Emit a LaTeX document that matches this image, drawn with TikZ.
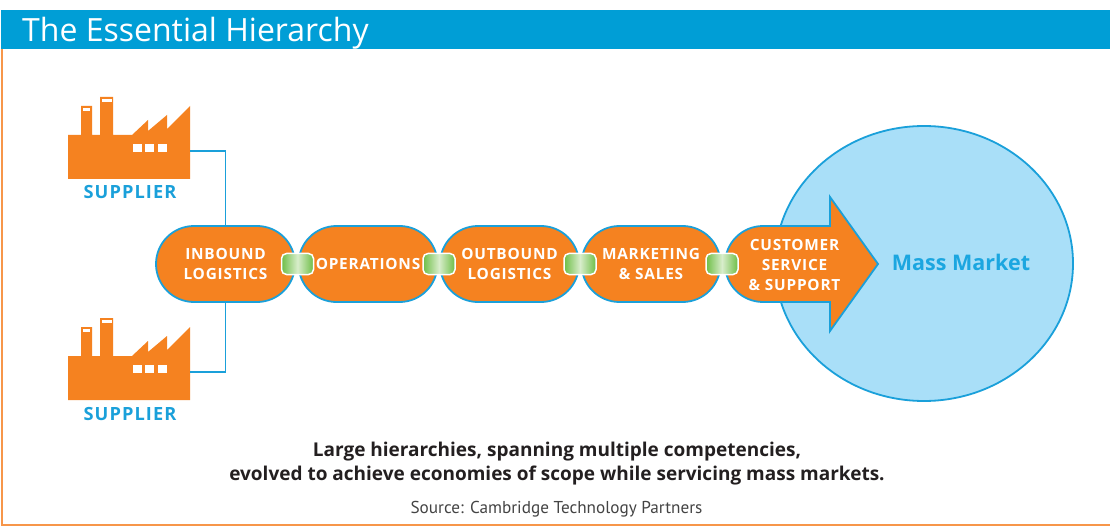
\documentclass[tikz,border=0pt]{standalone}
\usepackage{fontspec}
\setmainfont{Open Sans}
\newfontfamily\srcfont{PT Sans}
\newfontfamily\pillfont{Open Sans}[LetterSpace=5.0]
\newfontfamily\supfont{Open Sans}[LetterSpace=6.0]
\usetikzlibrary{shapes.misc,shapes.geometric}
\definecolor{ora}{HTML}{F58220}
\definecolor{bluel}{HTML}{1AA0DA}
\definecolor{titleblue}{HTML}{009ED6}
\definecolor{mmfill}{HTML}{A9DFF8}
\definecolor{mmtext}{HTML}{1BA6E0}
\definecolor{gdark}{HTML}{6DBE46}
\definecolor{glight}{HTML}{D8EDCB}
\definecolor{captxt}{HTML}{231F20}
\definecolor{srctxt}{HTML}{444444}
\definecolor{frameor}{HTML}{F7964A}
\begin{document}
\begin{tikzpicture}[x=1pt,y=-1pt,
  pill/.style={rounded rectangle, fill=ora, draw=bluel, line width=1.8pt,
    minimum width=139pt, minimum height=76pt, inner sep=0pt, text=white,
    font=\pillfont\bfseries\fontsize{15.4}{20}\selectfont, align=center},
  linkbox/.style={rounded corners=5pt, draw=white, line width=1.5pt,
    left color=gdark, right color=gdark, middle color=glight,
    minimum width=32pt, minimum height=21pt, inner sep=0pt},
  wire/.style={draw=bluel, line width=1.5pt},
  suplabel/.style={text=bluel, font=\supfont\bfseries\fontsize{18.2}{20}\selectfont, anchor=base, inner sep=0pt},
  captext/.style={anchor=base, inner sep=0pt, text=captxt, font=\bfseries\fontsize{19}{20}\selectfont},
  factory/.pic={
    \fill[ora] (68,179) -- (68,135) -- (81,135) -- (81,106) -- (92,106) -- (92,135)
      -- (100,135) -- (100,97) -- (113,97) -- (113,135) -- (132,135) -- (148,120)
      -- (148,131) -- (167,115) -- (167,129) -- (190,106) -- (190,179) -- cycle;
    \fill[white] (83,108) rectangle (90,111);
    \fill[white] (102,99) rectangle (112,102);
    \fill[white] (133,144) rectangle (142,152);
    \fill[white] (145,144) rectangle (154,152);
    \fill[white] (158,144) rectangle (167,152);
  }]
\useasboundingbox (0,0) rectangle (1110,529);
\fill[white] (0,0) rectangle (1110,529);

% title bar and frame
\fill[titleblue] (1,10) rectangle (1110,49);
\node[anchor=base west, inner sep=0pt, text=white, font=\fontsize{32}{32}\selectfont] (title) at (22,42) {The Essential Hierarchy};
\draw[frameor, line width=2pt] (2,49) -- (2,525) -- (1110,525);

% mass market ellipse
\node[ellipse, fill=mmfill, draw=bluel, line width=1.8pt, minimum width=298pt, minimum height=275pt, inner sep=0pt] (mm) at (924,263.5) {};
\node[text=mmtext, font=\bfseries\fontsize{21.5}{24}\selectfont, inner sep=0pt] (mmlabel) at (961,262) {Mass Market};

% suppliers
\pic at (0,0) {factory};
\pic at (0,221) {factory};
\coordinate (f1) at (190,151);
\coordinate (f2) at (190,372);
\node[suplabel] (s1) at (130,199) {SUPPLIER};
\node[suplabel] (s2) at (130,420) {SUPPLIER};

% value chain pills
\node[pill] (p1) at (225.5,264) {INBOUND\\LOGISTICS};
\node[pill] (p2) at (368,264) {OPERATIONS};
\node[pill] (p3) at (509.5,264) {OUTBOUND\\LOGISTICS};
\node[pill] (p4) at (651,264) {MARKETING\\\&~SALES};

% customer service arrow
\draw[fill=ora, draw=bluel, line width=1.8pt]
  (763,226) -- (830,226) -- (830,197) -- (878,264) -- (830,331) -- (830,302) -- (763,302)
  .. controls (742,302) and (725,285) .. (725,264)
  .. controls (725,243) and (742,226) .. (763,226) -- cycle;
\node[text=white, font=\pillfont\bfseries\fontsize{15.4}{20}\selectfont, align=center, inner sep=0pt] (cs) at (794.5,265) {CUSTOMER\\SERVICE\\\&~SUPPORT};

% supplier wires
\draw[wire] (f1) -| (p1.north);
\draw[wire] (f2) -| (p1.south);

% links
\node[linkbox] (l1) at (297.5,264) {};
\node[linkbox] (l2) at (439,264) {};
\node[linkbox] (l3) at (580,264) {};
\node[linkbox] (l4) at (722,264) {};

% caption
\node[captext] (cap1) at (557,456) {Large hierarchies, spanning multiple competencies,};
\node[captext] (cap2) at (557,480) {evolved to achieve economies of scope while servicing mass markets.};
\node[anchor=base, inner sep=0pt, text=srctxt, font=\srcfont\fontsize{17.2}{18}\selectfont] (src) at (556.5,513) {Source: Cambridge Technology Partners};
\end{tikzpicture}
\end{document}
